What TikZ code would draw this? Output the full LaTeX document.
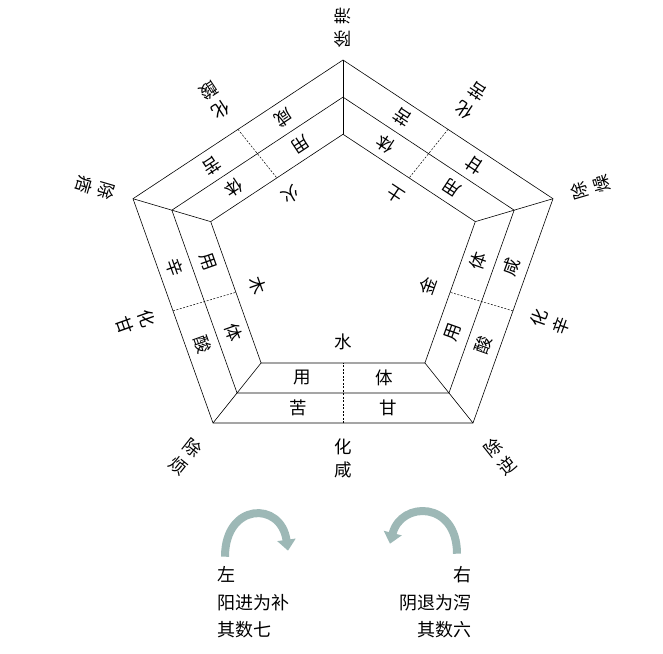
\documentclass[tikz,border=0pt]{standalone}
\usepackage{fontspec}
\newfontfamily\cjk{Noto Sans CJK SC}
\usetikzlibrary{calc,arrows.meta}
\newcommand\sideset[9]{%
 \node[lab,rotate=#3] (m#1a) at ($0.72*0.72*(v#1)+0.72*0.28*(v#2)$) {#4};
 \node[lab,rotate=#3] (o#1a) at ($0.907*0.69*(v#1)+0.907*0.31*(v#2)$) {#5};
 \node[lab,rotate=#3] (m#1b) at ($0.72*0.28*(v#1)+0.72*0.72*(v#2)$) {#6};
 \node[lab,rotate=#3] (o#1b) at ($0.907*0.31*(v#1)+0.907*0.69*(v#2)$) {#7};
 \node[lab,rotate=#3] (in#1) at ($0.25*(v#1)+0.25*(v#2)$) {#8};
 \node[lab,rotate=#3,align=center] (sl#1) at ($0.61*(v#1)+0.61*(v#2)$) {#9};
 \draw[dashline] ($0.5*(v#1)+0.5*(v#2)$) -- ($0.315*(v#1)+0.315*(v#2)$);
}
\begin{document}
\begin{tikzpicture}[x=1pt,y=1pt,
 lab/.style={font=\cjk\fontsize{17.5}{23}\selectfont,inner sep=0pt},
 dashline/.style={line width=0.5pt,dash pattern=on 2pt off 1.5pt},
 edgeline/.style={line width=0.6pt},
 bot/.style={font=\cjk\fontsize{18}{21}\selectfont,inner sep=0pt},
 arr/.style={line width=8pt,color=arrc,-{Triangle[width=18pt,length=11pt]}}]
\definecolor{arrc}{HTML}{9DB8B6}
\useasboundingbox (-343,260.7) rectangle (320,-392.3);
\coordinate (v0) at (0,200.7);
\coordinate (v1) at (210,62);
\coordinate (v2) at (130,-162.3);
\coordinate (v3) at (-130,-162.3);
\coordinate (v4) at (-210,62);
\foreach \s in {1,0.815,0.63}
 \draw[edgeline] ($\s*(v0)$) -- ($\s*(v1)$) -- ($\s*(v2)$) -- ($\s*(v3)$) -- ($\s*(v4)$) -- cycle;
\foreach \i in {0,...,4}
 \draw[edgeline] (v\i) -- ($0.63*(v\i)$);
\sideset{0}{1}{146.6}{体}{苦}{用}{甘}{土}{化\\苦}
\sideset{1}{2}{70.4}{体}{咸}{用}{酸}{金}{化\\辛}
\sideset{2}{3}{0}{体}{甘}{用}{苦}{水}{化\\咸}
\sideset{3}{4}{-70.4}{体}{酸}{用}{辛}{木}{化\\甘}
\sideset{4}{0}{-146.6}{体}{苦}{用}{咸}{火}{化\\酸}
\node[lab,align=center,rotate=180] (c0) at ($1.16*(v0)$) {除\\滞};
\node[lab,align=center,rotate=106.4] (c1) at ($1.18*(v1)$) {除\\燥};
\node[lab,align=center,rotate=38.7] (c2) at ($1.21*(v2)$) {除\\逆};
\node[lab,align=center,rotate=-38.7] (c3) at ($1.21*(v3)$) {除\\烦};
\node[lab,align=center,rotate=253.6] (c4) at ($1.18*(v4)$) {除\\痞};
\coordinate (ls) at (-118,-296);
\coordinate (lt) at (-55,-290);
\coordinate (rs) at (114,-293);
\coordinate (rt) at (47,-283);
\draw[arr] (ls) .. controls (-118,-242) and (-62,-240) .. (lt);
\draw[arr] (rs) .. controls (114,-240) and (58,-240) .. (rt);
\node[bot,anchor=west] (zuo) at (-126,-314) {左};
\node[bot,anchor=west] (l1) at (-126,-342) {阳进为补};
\node[bot,anchor=west] (l2) at (-126,-369) {其数七};
\node[bot,anchor=east] (you) at (129,-314) {右};
\node[bot,anchor=east] (r1) at (129,-342) {阴退为泻};
\node[bot,anchor=east] (r2) at (129,-369) {其数六};
\end{tikzpicture}
\end{document}
